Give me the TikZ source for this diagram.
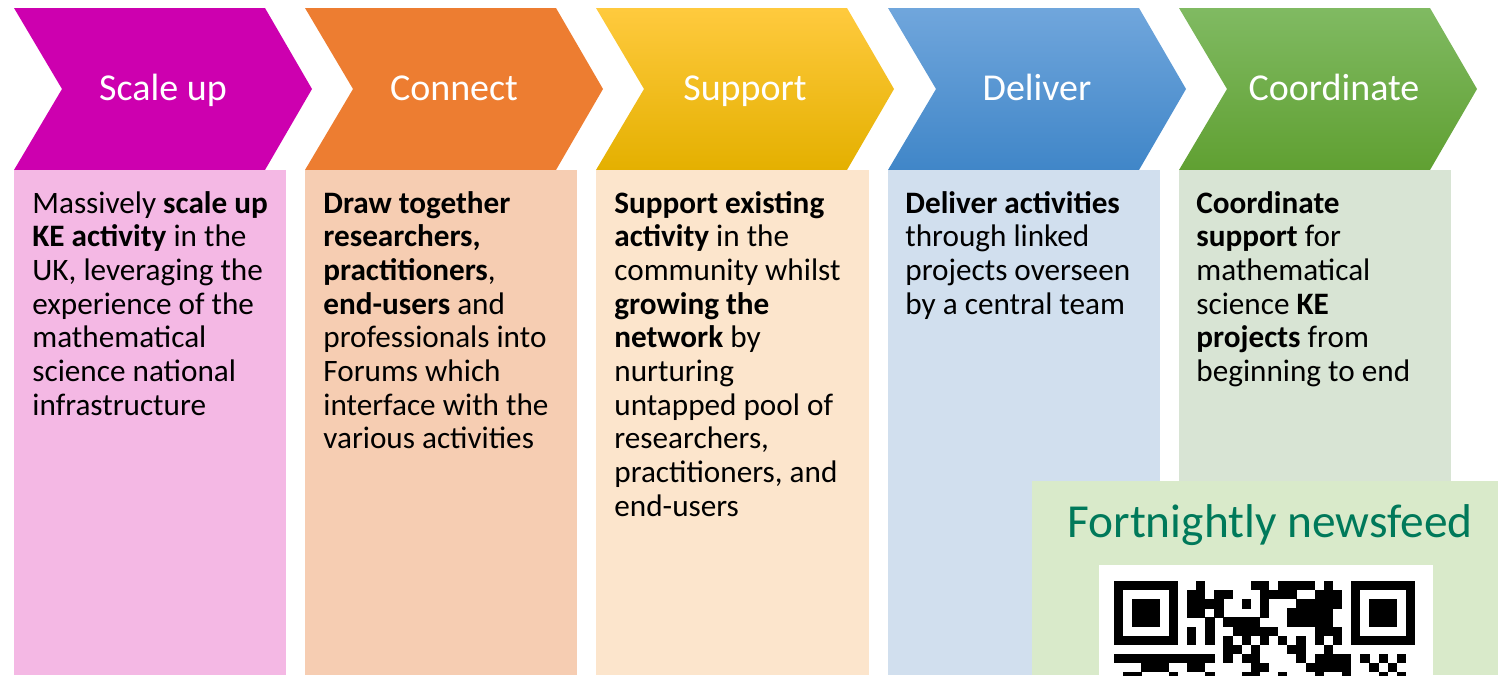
\documentclass[tikz,border=0pt]{standalone}
\usepackage{fontspec}
\setmainfont{Carlito}
\usepackage{tikz}
\usetikzlibrary{positioning}

\definecolor{scalecol}{RGB}{205,0,175}
\definecolor{scalebox}{RGB}{244,184,228}
\definecolor{conncol}{RGB}{237,125,49}
\definecolor{connbox}{RGB}{246,205,178}
\definecolor{supptop}{RGB}{255,202,62}
\definecolor{suppbot}{RGB}{228,176,0}
\definecolor{suppbox}{RGB}{252,229,204}
\definecolor{delitop}{RGB}{112,166,220}
\definecolor{delibot}{RGB}{64,134,200}
\definecolor{delibox}{RGB}{209,223,238}
\definecolor{coortop}{RGB}{128,186,98}
\definecolor{coorbot}{RGB}{96,160,50}
\definecolor{coorbox}{RGB}{216,228,212}
\definecolor{newsbox}{RGB}{217,234,202}
\definecolor{newstext}{RGB}{0,121,90}

\begin{document}
\begin{tikzpicture}[x=0.5pt, y=-0.5pt,
  title/.style={text=white, anchor=base, inner sep=0pt, font=\fontsize{19}{23}\selectfont},
  body/.style={anchor=base west, inner sep=0pt, font=\fontsize{15.6}{16.85}\selectfont},
  qr/.style={fill=black}]
\useasboundingbox (0,0) rectangle (1498,675);

% chevrons
\fill[scalecol] (14,8) -- (265,8) -- (312,89) -- (265,170) -- (14,170) -- (62,89) -- cycle;
\fill[conncol] (305,8) -- (556,8) -- (603,89) -- (556,170) -- (305,170) -- (353,89) -- cycle;
\shade[top color=supptop, bottom color=suppbot] (596,8) -- (847,8) -- (894,89) -- (847,170) -- (596,170) -- (644,89) -- cycle;
\shade[top color=delitop, bottom color=delibot] (888,8) -- (1139,8) -- (1186,89) -- (1139,170) -- (888,170) -- (936,89) -- cycle;
\shade[top color=coortop, bottom color=coorbot] (1179,8) -- (1430,8) -- (1477,89) -- (1430,170) -- (1179,170) -- (1227,89) -- cycle;

\node[title] (scale) at (163,100) {Scale up};
\node[title] (connect) at (454,100) {Connect};
\node[title] (support) at (745,100) {Support};
\node[title] (deliver) at (1037,100) {Deliver};
\node[title] (coord) at (1334,100) {Coordinate};

% boxes
\fill[scalebox] (14,170) rectangle (286,675);
\fill[connbox] (305,170) rectangle (577,675);
\fill[suppbox] (596,170) rectangle (869,675);
\fill[delibox] (888,170) rectangle (1160,675);
\fill[coorbox] (1179,170) rectangle (1451,675);

\node[body] (scaletxt) at (32,213) {\begin{tabular}[t]{@{}l@{}}Massively \textbf{scale up}\\\textbf{KE activity} in the\\UK, leveraging the\\experience of the\\mathematical\\science national\\infrastructure\end{tabular}};
\node[body] (conntxt) at (323,213) {\begin{tabular}[t]{@{}l@{}}\textbf{Draw together}\\\textbf{researchers,}\\\textbf{practitioners},\\\textbf{end-users} and\\professionals into\\Forums which\\interface with the\\various activities\end{tabular}};
\node[body] (supptxt) at (614,213) {\begin{tabular}[t]{@{}l@{}}\textbf{Support existing}\\\textbf{activity} in the\\community whilst\\\textbf{growing the}\\\textbf{network} by\\nurturing\\untapped pool of\\researchers,\\practitioners, and\\end-users\end{tabular}};
\node[body] (delitxt) at (905,213) {\begin{tabular}[t]{@{}l@{}}\textbf{Deliver activities}\\through linked\\projects overseen\\by a central team\end{tabular}};
\node[body] (coortxt) at (1196,213) {\begin{tabular}[t]{@{}l@{}}\textbf{Coordinate}\\\textbf{support} for\\mathematical\\science \textbf{KE}\\\textbf{projects} from\\beginning to end\end{tabular}};

% newsfeed
\fill[newsbox] (1032,481) rectangle (1498,675);
\node[anchor=base, inner sep=0pt, text=newstext, font=\fontsize{23.7}{28}\selectfont] (news) at (1270,537) {Fortnightly newsfeed};
\fill[white] (1099,565) rectangle (1433,675);

\begin{scope}
\clip (1099,565) rectangle (1433,675);
% finder patterns
\fill[qr] (1114,581) rectangle ++(63.84,63.84);
\fill[white] (1123.12,590.12) rectangle ++(45.6,45.6);
\fill[qr] (1132.24,599.24) rectangle ++(27.36,27.36);
\fill[qr] (1351.12,581) rectangle ++(63.84,63.84);
\fill[white] (1360.24,590.12) rectangle ++(45.6,45.6);
\fill[qr] (1369.36,599.24) rectangle ++(27.36,27.36);
\foreach \r/\cols in {0/{9,15,16,18,19,20,21,23},
                      1/{8,9,11,12,16,17,18,19,22,23,24},
                      2/{8,9,10,11,14,16,20,21,22,23,24},
                      3/{8,9,11,16,19,20,21,22,23},
                      4/{10,12,13,14,15,19,20,21,22,23},
                      5/{8,10,13,14,15,16,17,22,23,24},
                      6/{8,10,12,14,16,18,20,22,24},
                      7/{12,13,15,19,20,23},
                      8/{0,1,2,3,4,5,6,7,8,9,10,12,14,15,20,22,23,24,25,27,29,31},
                      9/{3,4,5,8,9,15,16,21,22,23,24,25,28,30},
                      10/{1,2,6,10,14,15,18,22,25,29,31}}
  \foreach \c in \cols
    \fill[qr] (1114+9.12*\c,581+9.12*\r) rectangle ++(9.3,9.3);
\end{scope}
\end{tikzpicture}
\end{document}
